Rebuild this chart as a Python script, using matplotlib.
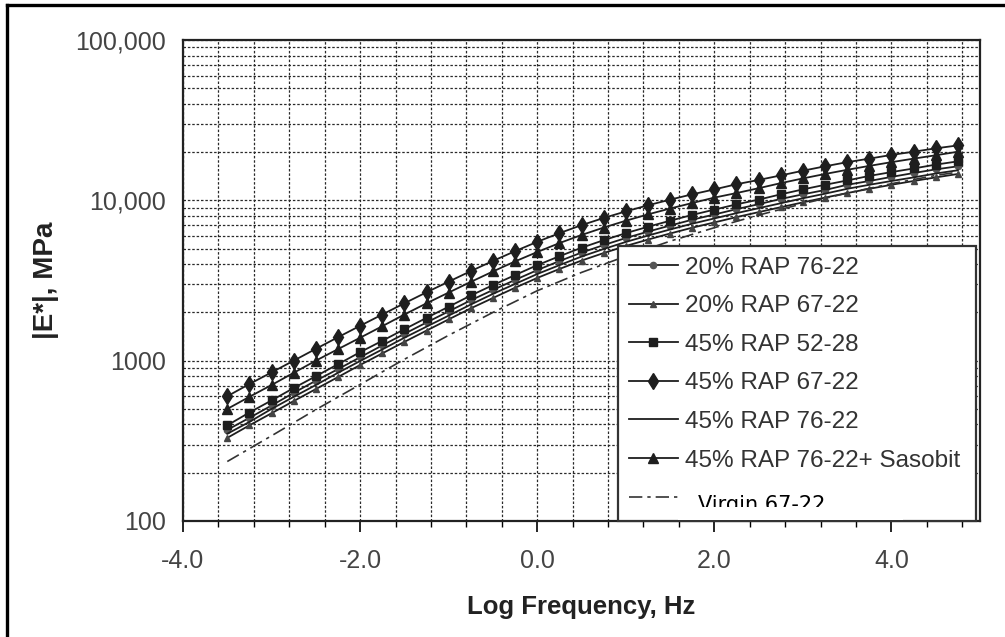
import numpy as np
import matplotlib
matplotlib.use('Agg')
import matplotlib.pyplot as pl
from matplotlib.ticker import FixedLocator, MultipleLocator, LogLocator, FuncFormatter, NullFormatter
from matplotlib.patches import Rectangle
from matplotlib.lines import Line2D
from matplotlib.transforms import Bbox, TransformedBbox

pl.rcParams['font.family'] = ['Liberation Sans', 'DejaVu Sans']

# log reduced frequency, Hz
log_freq = [-3.5, -3.25, -3.0, -2.75, -2.5, -2.25, -2.0, -1.75, -1.5, -1.25,
            -1.0, -0.75, -0.5, -0.25, 0.0, 0.25, 0.5, 0.75, 1.0, 1.25,
            1.5, 1.75, 2.0, 2.25, 2.5, 2.75, 3.0, 3.25, 3.5, 3.75,
            4.0, 4.25, 4.5, 4.75]

# |E*| master curves, MPa
rap20_7622 = [370, 440, 525, 630, 750, 885, 1050, 1245, 1470, 1730,
              2030, 2380, 2760, 3190, 3670, 4180, 4720, 5260, 5820, 6380,
              6960, 7570, 8160, 8810, 9460, 10200, 10900, 11600, 12500, 13200,
              14000, 14800, 15600, 16300]
rap20_6722 = [330, 395, 470, 560, 665, 790, 940, 1110, 1310, 1540,
              1810, 2120, 2460, 2850, 3280, 3730, 4210, 4690, 5190, 5690,
              6210, 6750, 7280, 7860, 8440, 9060, 9710, 10400, 11100, 11800,
              12500, 13200, 13900, 14600]
rap45_5228 = [395, 475, 565, 675, 800, 950, 1130, 1330, 1570, 1850,
              2170, 2550, 2960, 3420, 3940, 4480, 5060, 5640, 6240, 6840,
              7460, 8110, 8750, 9440, 10100, 10900, 11700, 12500, 13300, 14200,
              15000, 15800, 16700, 17500]
rap45_6722 = [600, 715, 845, 1000, 1185, 1400, 1650, 1940, 2280, 2670,
              3110, 3620, 4190, 4820, 5510, 6240, 7000, 7760, 8530, 9310,
              10100, 10900, 11700, 12600, 13400, 14300, 15300, 16300, 17300, 18200,
              19200, 20100, 21100, 22000]
rap45_7622 = [350, 415, 500, 595, 705, 840, 995, 1175, 1390, 1630,
              1910, 2240, 2610, 3010, 3470, 3940, 4460, 4970, 5500, 6030,
              6580, 7150, 7710, 8320, 8930, 9590, 10300, 11000, 11800, 12500,
              13200, 13900, 14700, 15400]
rap45_7622_sas = [500, 595, 705, 840, 1000, 1180, 1390, 1640, 1940, 2280,
                  2660, 3100, 3600, 4160, 4760, 5410, 6080, 6760, 7460, 8170,
                  8890, 9620, 10400, 11100, 11900, 12800, 13700, 14600, 15500, 16400,
                  17300, 18200, 19100, 20100]

virgin_freq = [-3.5, -3.0, -2.5, -2.0, -1.5, -1.0, -0.5, 0.0, 0.5, 1.0,
               1.5, 2.0, 2.5, 3.0, 3.5, 4.0, 4.5, 4.75]
virgin_6722 = [235, 340, 495, 710, 1020, 1440, 2000, 2730, 3550, 4480,
               5560, 6750, 8090, 9530, 11100, 12700, 14300, 15000]

labels = ['20% RAP 76-22', '20% RAP 67-22', '45% RAP 52-28', '45% RAP 67-22',
          '45% RAP 76-22', '45% RAP 76-22+ Sasobit']

W, H = 1005, 637
fig = pl.figure(figsize=(W / 100, H / 100), dpi=100)
ax = fig.add_axes([183 / W, 1 - 521 / H, (980 - 183) / W, (521 - 40) / H])

c = '#1e1e1e'
h = []
h += ax.plot(log_freq, rap20_7622, c=c, lw=1.3, marker='o', ms=4.5, mfc='#555', mec='#555')
h += ax.plot(log_freq, rap20_6722, c=c, lw=1.3, marker='^', ms=5, mfc='#444', mec='#444')
h += ax.plot(log_freq, rap45_5228, c=c, lw=1.3, marker='s', ms=5.5, mfc=c, mec=c)
h += ax.plot(log_freq, rap45_6722, c=c, lw=1.3, marker='d', ms=8.5, mfc=c, mec=c)
h += ax.plot(log_freq, rap45_7622, c=c, lw=1.3)
h += ax.plot(log_freq, rap45_7622_sas, c=c, lw=1.3, marker='^', ms=7, mfc=c, mec=c)
h += ax.plot(virgin_freq, virgin_6722, c='#333', lw=1.2, ls=(0, (8, 3, 2, 3)))

ax.set_yscale('log')
ax.set_xlim(-4.0, 5.0)
ax.set_ylim(100, 100000)

ax.xaxis.set_major_locator(FixedLocator([-4, -2, 0, 2, 4]))
ax.xaxis.set_minor_locator(MultipleLocator(0.4))
ax.xaxis.set_major_formatter(FuncFormatter(lambda v, p: f'{v:.1f}'))
ax.yaxis.set_major_locator(LogLocator(base=10))
ax.yaxis.set_minor_locator(LogLocator(base=10, subs=np.arange(2, 10)))
ax.yaxis.set_minor_formatter(NullFormatter())
ax.yaxis.set_major_formatter(FuncFormatter(lambda v, p: f'{v:,.0f}' if v >= 10000 else f'{v:.0f}'))

ax.grid(which='both', axis='both', color='#2a2a2a', lw=0.9, ls=(0, (2, 1.5)))
ax.set_axisbelow(True)

ax.tick_params(axis='x', which='major', direction='out', length=8, width=1.2, pad=12,
               labelsize=18, labelcolor='#444')
ax.tick_params(axis='x', which='minor', direction='out', length=4, width=1)
ax.tick_params(axis='y', which='both', length=0, pad=12, labelsize=18, labelcolor='#444')
for s in ax.spines.values():
    s.set_linewidth(1.6)
    s.set_color('#222')

ax.set_xlabel('Log Frequency, Hz', fontsize=18.5, fontweight='bold', color='#222', labelpad=16)
ax.set_ylabel('|E*|, MPa', fontsize=20, fontweight='bold', color='#222', labelpad=12)

leg = ax.legend(h, labels + [''], loc='lower left',
                bbox_to_anchor=(0.546, 0.0, 0.449, 0.57), mode='expand',
                fontsize=17.5, numpoints=1, handlelength=2.0, handletextpad=0.3,
                labelspacing=0.68, borderpad=0.45, borderaxespad=0.0,
                fancybox=False, framealpha=1)
leg.get_frame().set_edgecolor('#333')
leg.get_frame().set_linewidth(1.6)
for t in leg.get_texts():
    t.set_color('#333')

# white patch with the retyped last legend label
fig.add_artist(Rectangle((678 / W, 1 - 519.5 / H), (903 - 678) / W, (519.5 - 483) / H,
                         transform=fig.transFigure, fc='white', ec='none', zorder=5))
vt = fig.text(698 / W, 1 - 511 / H, 'Virgin 67-22', fontsize=15, family='DejaVu Sans',
              color='black', va='baseline', ha='left', zorder=6)
vt.set_clip_box(TransformedBbox(Bbox([[678 / W, 1 - 507 / H], [903 / W, 1 - 483 / H]]),
                                fig.transFigure))
vt.set_clip_on(True)

# outer frame (left and top edges)
fig.add_artist(Line2D([7 / W, 7 / W], [0, 1 - 5 / H], transform=fig.transFigure,
                      color='black', lw=2.4))
fig.add_artist(Line2D([7 / W, 1], [1 - 5 / H, 1 - 5 / H], transform=fig.transFigure,
                      color='black', lw=2.4))

fig.savefig('out.png', dpi=100)
